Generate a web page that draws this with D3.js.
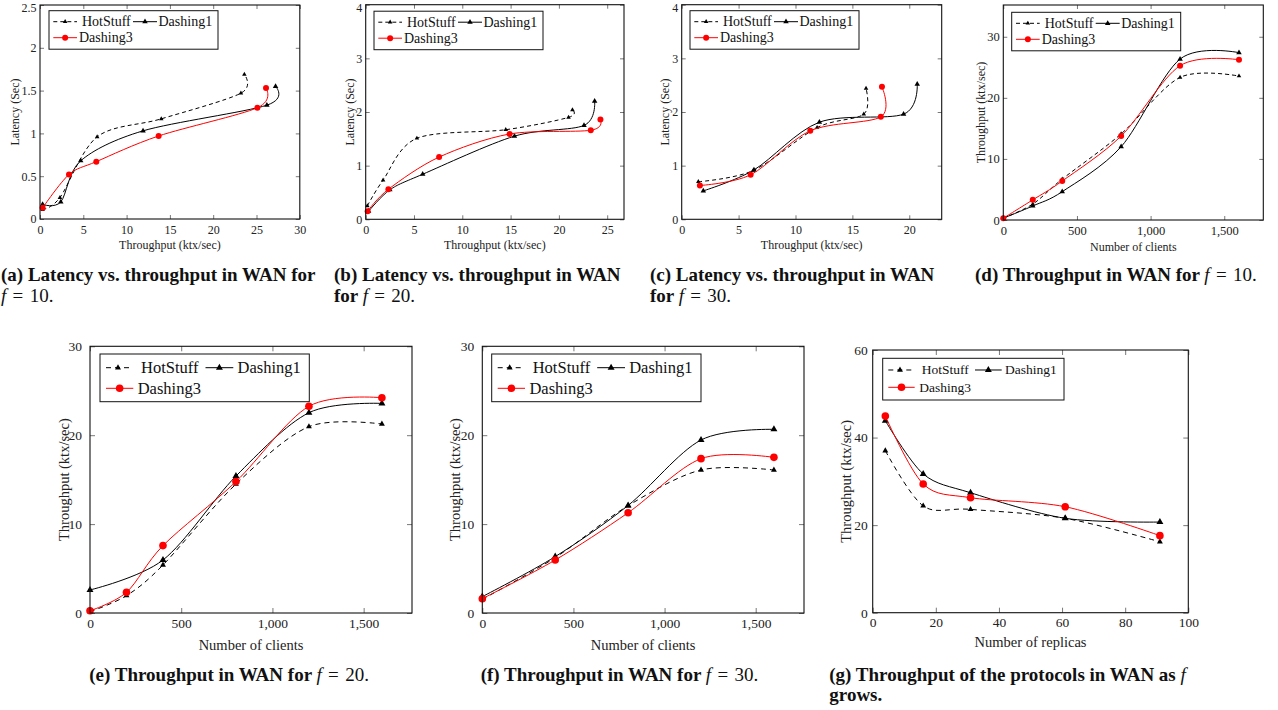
<!DOCTYPE html>
<meta charset="utf-8"/>
<style>
body { margin: 0; background: #fff; }
</style>
<svg width="1278" height="710"></svg>
<script src="https://d3js.org/d3.v7.min.js" charset="utf-8"></script>
<script>

var FONT = '"Liberation Serif", "Times New Roman", serif';
var seriesNames = ['HotStuff', 'Dashing1', 'Dashing3'];

// (a) latency vs throughput, f = 10   [ktx/sec, sec]
var aHotStuff = [[0.3,0.11],[2.3,0.25],[6.6,0.96],[14.0,1.17],[23.2,1.47],[23.6,1.69]];
var aDashing1 = [[0.3,0.17],[2.4,0.20],[4.7,0.68],[11.9,1.03],[26.2,1.33],[27.2,1.55]];
var aDashing3 = [[0.3,0.13],[3.35,0.52],[6.5,0.67],[13.7,0.97],[25.1,1.30],[26.1,1.53]];

// (b) latency vs throughput, f = 20
var bHotStuff = [[0.17,0.25],[1.8,0.73],[5.3,1.51],[14.5,1.67],[21.0,1.90],[21.4,2.04]];
var bDashing1 = [[0.3,0.15],[2.5,0.55],[5.9,0.84],[15.4,1.55],[22.6,1.75],[23.7,2.20]];
var bDashing3 = [[0.2,0.15],[2.35,0.56],[7.6,1.16],[14.9,1.59],[23.3,1.66],[24.3,1.86]];

// (c) latency vs throughput, f = 30
var cHotStuff = [[1.46,0.70],[6.3,0.91],[11.9,1.71],[16.0,1.96],[16.2,2.44]];
var cDashing1 = [[1.9,0.53],[6.35,0.92],[12.1,1.81],[19.5,1.96],[20.7,2.52]];
var cDashing3 = [[1.6,0.63],[6.06,0.83],[11.3,1.65],[17.5,1.91],[17.6,2.47]];

// (d) throughput vs clients, f = 10
var dClients  = [0, 200, 400, 800, 1200, 1600];
var dHotStuff = [0.3, 2.6, 6.7, 14.1, 23.35, 23.57];
var dDashing1 = [0.3, 2.3, 4.64, 12.0, 26.35, 27.4];
var dDashing3 = [0.3, 3.3, 6.38, 13.75, 25.26, 26.24];

// (e) throughput vs clients, f = 20
var eClients   = [0, 200, 400, 800, 1200, 1600];
var eClientsD1 = [0, 400, 800, 1200, 1600];
var eHotStuff  = [0.15, 1.95, 5.4, 14.5, 20.96, 21.26];
var eDashing1  = [2.59, 5.96, 15.4, 22.53, 23.58];
var eDashing3  = [0.25, 2.33, 7.58, 14.78, 23.25, 24.22];

// (f) throughput vs clients, f = 30
var fClients  = [0, 400, 800, 1200, 1600];
var fHotStuff = [1.54, 6.23, 12.07, 16.09, 16.09];
var fDashing1 = [1.84, 6.34, 12.1, 19.46, 20.66];
var fDashing3 = [1.61, 5.96, 11.28, 17.36, 17.51];

// (g) throughput vs replicas
var replicas  = [4, 16, 31, 61, 91];
var gHotStuff = [37.0, 24.4, 23.6, 21.56, 16.2];
var gDashing1 = [43.86, 31.7, 27.4, 21.56, 20.7];
var gDashing3 = [44.9, 29.4, 26.27, 24.2, 17.6];

function zip(xs, ys) { return xs.map(function(v, i) { return [v, ys[i]]; }); }

var svg = d3.select('svg');

// legend templates (offsets relative to the legend box)
var legTop = { w:169, h:38.5, fs:14, r1:11, r2:27, tri:[4.3,28,33], tri2:[84,108,109.5], circ:[4.3,28,30] };
var legBig = { w:209.3, h:47.7, fs:16.5, r1:13.7, r2:34.3, tri:[6,30,41], tri2:[105.5,133.3,137.5], circ:[6,33.3,37.7] };
var legG   = { w:181.3, h:41.7, fs:13.5, r1:11.7, r2:29, tri:[5.6,29,39], tri2:[92.3,119,122.3], circ:[5.6,32,36.6] };

var panels = [
  { id:'a', series:[aHotStuff, aDashing1, aDashing3],
    left:40, right:299.8, top:5, bottom:219, xDomain:[0,30], yDomain:[0,2.5],
    xTicks:d3.range(0,31,5), yTicks:[0,0.5,1,1.5,2,2.5], fmt:String,
    tickFs:12, yGap:3.5, xPad:14.5, tickLen:4, xLabel:'Throughput (ktx/sec)', yLabel:'Latency (Sec)', labFs:12,
    xLabY:249, yLabX:15, leg:legTop, legX:49, legY:10.7, small:true,
    cap:['(a) Latency vs. throughput in WAN for', ['', '10.']], capX:1, capY:281 },
  { id:'b', series:[bHotStuff, bDashing1, bDashing3],
    left:365.7, right:624, top:4.7, bottom:219.3, xDomain:[0,26.74], yDomain:[0,4],
    xTicks:d3.range(0,26,5), yTicks:[0,1,2,3,4], fmt:String,
    tickFs:12, yGap:3.5, xPad:14.5, tickLen:4, xLabel:'Throughput (ktx/sec)', yLabel:'Latency (Sec)', labFs:12,
    xLabY:249, yLabX:349.3, leg:legTop, legX:374, legY:11.2, small:true,
    cap:['(b) Latency vs. throughput in WAN', ['for ', '20.']], capX:334, capY:281 },
  { id:'c', series:[cHotStuff, cDashing1, cDashing3],
    left:681.7, right:941.7, top:4.7, bottom:219.3, xDomain:[0,22.85], yDomain:[0,4],
    xTicks:d3.range(0,21,5), yTicks:[0,1,2,3,4], fmt:String,
    tickFs:12, yGap:3.5, xPad:14.5, tickLen:4, xLabel:'Throughput (ktx/sec)', yLabel:'Latency (Sec)', labFs:12,
    xLabY:249, yLabX:665, leg:legTop, legX:690, legY:10.7, small:true,
    cap:['(c) Latency vs. throughput in WAN', ['for ', '30.']], capX:650, capY:281 },
  { id:'d', series:[zip(dClients,dHotStuff), zip(dClients,dDashing1), zip(dClients,dDashing3)],
    left:1003.3, right:1263.3, top:5, bottom:220, xDomain:[0,1765], yDomain:[0,35.2],
    xTicks:[0,500,1000,1500], yTicks:[0,10,20,30], fmt:d3.format(','),
    tickFs:12.5, yGap:3.5, xPad:14.5, tickLen:4, xLabel:'Number of clients', yLabel:'Throughput (ktx/sec)', labFs:12,
    xLabY:251, yLabX:980.5, leg:legTop, legX:1011.7, legY:12.3, small:true,
    cap:['(d) Throughput in WAN for ', null, '10.'], capX:975, capY:281 },
  { id:'e', series:[zip(eClients,eHotStuff), zip(eClientsD1,eDashing1), zip(eClients,eDashing3)],
    left:90, right:412, top:346.3, bottom:613, xDomain:[0,1765], yDomain:[0,30],
    xTicks:[0,500,1000,1500], yTicks:[0,10,20,30], fmt:d3.format(','),
    tickFs:13.5, yGap:8, xPad:15, tickLen:5, xLabel:'Number of clients', yLabel:'Throughput (ktx/sec)', labFs:14.5,
    xLabY:650, yLabX:64, leg:legBig, legX:100, legY:354, small:false,
    cap:['(e) Throughput in WAN for ', null, '20.'], capX:89.3, capY:680.7 },
  { id:'f', series:[zip(fClients,fHotStuff), zip(fClients,fDashing1), zip(fClients,fDashing3)],
    left:482.3, right:804, top:346.3, bottom:613, xDomain:[0,1765], yDomain:[0,30],
    xTicks:[0,500,1000,1500], yTicks:[0,10,20,30], fmt:d3.format(','),
    tickFs:13.5, yGap:8, xPad:15, tickLen:5, xLabel:'Number of clients', yLabel:'Throughput (ktx/sec)', labFs:14.5,
    xLabY:650, yLabX:455, leg:legBig, legX:491.7, legY:354, small:false,
    cap:['(f) Throughput in WAN for ', null, '30.'], capX:480.7, capY:680.7 },
  { id:'g', series:[zip(replicas,gHotStuff), zip(replicas,gDashing1), zip(replicas,gDashing3)],
    left:872.7, right:1188.3, top:350, bottom:612.7, xDomain:[0,100], yDomain:[0,60],
    xTicks:d3.range(0,101,20), yTicks:[0,20,40,60], fmt:String,
    tickFs:13.5, yGap:5, xPad:14.5, tickLen:5, xLabel:'Number of replicas', yLabel:'Throughput (ktx/sec)', labFs:14.5,
    xLabY:647, yLabX:846, leg:legG, legX:882.7, legY:358.3, small:false,
    cap:['(g) Throughput of the protocols in WAN as ', null, '', 'grows.'], capX:829.3, capY:680.7 }
];

var styles = [
  { color:'#000', dash:'4,3', marker:'tri', sizeS:9,  sizeB:15 },
  { color:'#000', dash:null,  marker:'tri', sizeS:13, sizeB:21 },
  { color:'#f00', dash:null,  marker:'circ', sizeS:3,  sizeB:3.8 }
];

function drawMarker(g, st, px, py, small) {
  if (st.marker === 'circ') {
    g.append('circle').attr('cx', px).attr('cy', py)
      .attr('r', small ? st.sizeS : st.sizeB).attr('fill', st.color);
  } else {
    g.append('path')
      .attr('d', d3.symbol(d3.symbolTriangle, small ? st.sizeS : st.sizeB)())
      .attr('transform', 'translate(' + px + ',' + py + ')')
      .attr('fill', st.color);
  }
}

function styleAxis(a, p) {
  a.select('.domain').remove();
  a.selectAll('.tick line').attr('stroke', '#555').attr('stroke-width', 0.8);
  a.selectAll('text').attr('font-family', FONT).attr('font-size', p.tickFs).attr('fill', '#222');
  a.attr('font-family', null).attr('font-size', null);
}

panels.forEach(function(p) {
  var x = d3.scaleLinear().domain(p.xDomain).range([p.left, p.right]);
  var y = d3.scaleLinear().domain(p.yDomain).range([p.bottom, p.top]);
  var g = svg.append('g').attr('class', 'panel-' + p.id);
  var tl = p.tickLen;

  // ticks on all four sides, pointing inward
  var ab = g.append('g').attr('transform', 'translate(0,' + p.bottom + ')')
    .call(d3.axisBottom(x).tickValues(p.xTicks).tickSize(-tl).tickPadding(p.xPad - 0.71 * p.tickFs).tickFormat(p.fmt));
  styleAxis(ab, p);
  var at = g.append('g').attr('transform', 'translate(0,' + p.top + ')')
    .call(d3.axisTop(x).tickValues(p.xTicks).tickSize(-tl).tickFormat(''));
  styleAxis(at, p);
  var al = g.append('g').attr('transform', 'translate(' + p.left + ',0)')
    .call(d3.axisLeft(y).tickValues(p.yTicks).tickSize(-tl).tickPadding(p.yGap).tickFormat(p.fmt));
  styleAxis(al, p);
  // keep the topmost label inside the page
  al.selectAll('.tick text').attr('dy', function(d) {
    return Math.max(0.32 * p.tickFs, 0.92 * p.tickFs - y(d)) + 'px';
  });
  var ar = g.append('g').attr('transform', 'translate(' + p.right + ',0)')
    .call(d3.axisRight(y).tickValues(p.yTicks).tickSize(-tl).tickFormat(''));
  styleAxis(ar, p);

  // series
  var line = d3.line().x(function(d) { return x(d[0]); }).y(function(d) { return y(d[1]); })
    .curve(d3.curveCardinal.tension(0.08));
  p.series.forEach(function(data, i) {
    var st = styles[i];
    g.append('path').attr('d', line(data)).attr('fill', 'none')
      .attr('stroke', st.color).attr('stroke-width', 1)
      .attr('stroke-dasharray', st.dash ? (p.small ? st.dash : '5,4') : null);
    data.forEach(function(d) { drawMarker(g, st, x(d[0]), y(d[1]), p.small); });
  });

  // frame
  g.append('rect').attr('x', p.left).attr('y', p.top)
    .attr('width', p.right - p.left).attr('height', p.bottom - p.top)
    .attr('fill', 'none').attr('stroke', '#111').attr('stroke-width', 1.1);

  // axis labels
  g.append('text').attr('x', (p.left + p.right) / 2).attr('y', p.xLabY)
    .attr('text-anchor', 'middle').attr('font-family', FONT).attr('font-size', p.labFs)
    .attr('fill', '#222').text(p.xLabel);
  g.append('text').attr('transform', 'translate(' + p.yLabX + ',' + ((p.top + p.bottom) / 2) + ') rotate(-90)')
    .attr('dy', '0.35em').attr('text-anchor', 'middle').attr('font-family', FONT)
    .attr('font-size', p.labFs).attr('fill', '#222').text(p.yLabel);

  // legend
  var L = p.leg, lg = g.append('g').attr('transform', 'translate(' + p.legX + ',' + p.legY + ')');
  lg.append('rect').attr('width', L.w).attr('height', L.h).attr('fill', '#fff')
    .attr('stroke', '#111').attr('stroke-width', 1);
  var entries = [[0, L.tri, L.r1], [1, L.tri2, L.r1], [2, L.circ, L.r2]];
  entries.forEach(function(e) {
    var st = styles[e[0]], pos = e[1], ry = e[2];
    lg.append('line').attr('x1', pos[0]).attr('x2', pos[1]).attr('y1', ry).attr('y2', ry)
      .attr('stroke', st.color).attr('stroke-width', 1)
      .attr('stroke-dasharray', st.dash ? (p.small ? st.dash : '5,4') : null);
    drawMarker(lg, st, (pos[0] + pos[1]) / 2, ry, p.small);
    lg.append('text').attr('x', pos[2]).attr('y', ry).attr('dy', '0.33em')
      .attr('font-family', FONT).attr('font-size', L.fs).attr('fill', '#111')
      .text(seriesNames[e[0]]);
  });

  // caption
  var cap = g.append('text').attr('x', p.capX).attr('y', p.capY)
    .attr('font-family', FONT).attr('font-size', 19).attr('font-weight', 'bold').attr('fill', '#111');
  function mathF(t, val) {
    t.append('tspan').attr('font-style', 'italic').attr('font-weight', 'normal').text('f');
    if (val !== '') t.append('tspan').attr('font-weight', 'normal').text('\u2004=\u2004' + val);
  }
  if (p.cap.length === 2) {
    cap.append('tspan').text(p.cap[0]);
    var l2 = cap.append('tspan').attr('x', p.capX).attr('dy', 20.7);
    l2.append('tspan').text(p.cap[1][0]);
    mathF(l2, p.cap[1][1]);
  } else {
    cap.append('tspan').text(p.cap[0]);
    mathF(cap, p.cap[2]);
    if (p.cap[3]) cap.append('tspan').attr('x', p.capX).attr('dy', 20.3).text(p.cap[3]);
  }
});

</script>
